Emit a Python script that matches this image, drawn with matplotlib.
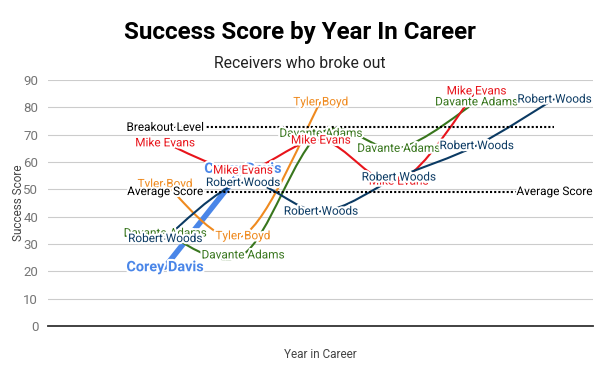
import numpy as np
import matplotlib.pyplot as plt
from matplotlib.path import Path
from matplotlib.patches import PathPatch
import matplotlib.patheffects as pe

plt.rcParams['font.family'] = ['Roboto', 'DejaVu Sans']

# categories on the x axis (first slot is empty in the original chart)
years = [1, 2, 3, 4, 5, 6]

corey_davis = [21.5, 57.5]
tyler_boyd = [52, 33, 82]
davante_adams = [34, 26, 70.5, 65, 82]
mike_evans = [67, 57, 68, 53, 86]
robert_woods = [32, 52.5, 42, 54.5, 66, 83]
breakout_level = [72.7, 72.7, 72.7, 72.7, 72.7, 72.7]
average_score = [49.2, 49.2, 49.2, 49.2, 49.2, 49.2]

players = [
    ('Corey Davis', corey_davis, '#4a86e8', 4.0),
    ('Tyler Boyd', tyler_boyd, '#ef8a1f', 1.5),
    ('Davante Adams', davante_adams, '#38761d', 1.5),
    ('Mike Evans', mike_evans, '#e8141b', 1.5),
    ('Robert Woods', robert_woods, '#0b3a63', 1.5),
]


def smooth_path(xs, ys):
    # cubic bezier through the points (catmull-rom style), like the sheets "smooth" option
    pts = np.column_stack([xs, ys]).astype(float)
    n = len(pts)
    verts = [pts[0]]
    codes = [Path.MOVETO]
    for i in range(n - 1):
        p0 = pts[max(i - 1, 0)]
        p1 = pts[i]
        p2 = pts[i + 1]
        p3 = pts[min(i + 2, n - 1)]
        verts += [p1 + (p2 - p0) / 6, p2 - (p3 - p1) / 6, p2]
        codes += [Path.CURVE4] * 3
    return Path(verts, codes)


fig = plt.figure(figsize=(6, 3.71), dpi=100)
ax = fig.add_axes([48 / 600, 45 / 371, 545 / 600, 246 / 371])
ax.set_xlim(-0.5, 6.5)
ax.set_ylim(0, 90)
ax.set_yticks(range(0, 100, 10))
ax.set_xticks([])
ax.grid(axis='y', color='#cccccc', lw=0.8)
ax.set_axisbelow(True)
for s in ['top', 'right', 'left']:
    ax.spines[s].set_visible(False)
ax.spines['bottom'].set_color('#333333')
ax.spines['bottom'].set_linewidth(1.3)
ax.tick_params(axis='y', length=0, labelsize=9.5, labelcolor='#757575', pad=7)
ax.set_ylabel('Success Score', fontsize=8.5, color='#444444')
ax.yaxis.set_label_coords(-23 / 545, 0.5)
ax.set_xlabel('Year in Career', fontsize=8.5, color='#444444', labelpad=16)

halo = [pe.withStroke(linewidth=3, foreground='white')]

for name, vals, col, lw in players:
    xs = years[:len(vals)]
    ax.add_patch(PathPatch(smooth_path(xs, vals), fill=False, edgecolor=col,
                           lw=lw, capstyle='round', zorder=3))

ax.plot(years, breakout_level, color='black', lw=1.5, ls=(0, (1, 1)), zorder=3)
ax.plot(years, average_score, color='black', lw=1.5, ls=(0, (1, 1)), zorder=3)

for name, vals, col, lw in players:
    fw = 'bold' if name == 'Corey Davis' else 'normal'
    fs = 10.4 if name == 'Corey Davis' else 8.5
    for x, v in zip(years, vals):
        ax.text(x, v, name, ha='center', va='center', fontsize=fs, color=col,
                fontweight=fw, path_effects=halo, zorder=5, clip_on=False)

ax.text(years[0], breakout_level[0], 'Breakout Level', ha='center', va='center',
        fontsize=8.5, color='black', path_effects=halo, zorder=5)
ax.text(years[0], average_score[0], 'Average Score', ha='center', va='center',
        fontsize=8.5, color='black', path_effects=halo, zorder=5)
ax.text(years[-1], average_score[-1], 'Average Score', ha='center', va='center',
        fontsize=8.5, color='black', path_effects=halo, zorder=5, clip_on=False)

fig.text(0.5, 1 - 32 / 371, 'Success Score by Year In Career', ha='center', va='center',
         fontsize=17.4, fontweight='bold', color='black')
fig.text(0.5, 1 - 63 / 371, 'Receivers who broke out', ha='center', va='center',
         fontsize=11.3, color='#222222')

fig.savefig('out.png', dpi=100)
